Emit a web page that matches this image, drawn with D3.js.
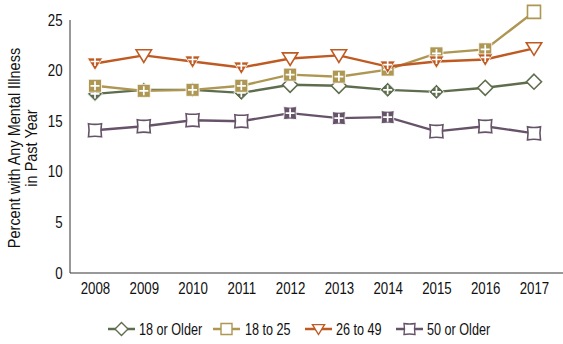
<!DOCTYPE html>
<html><head><meta charset="utf-8">
<script src="https://cdn.jsdelivr.net/npm/d3@7"></script>
<style>
body{margin:0;background:#fff;}
text{font-family:"Liberation Sans","Arial",sans-serif;fill:#111;}
</style></head>
<body><svg id="c" width="563" height="344"></svg>
<script>
const years = ["2008","2009","2010","2011","2012","2013","2014","2015","2016","2017"];
const yTicks = [0,5,10,15,20,25];
const seriesNames = ["18 or Older","18 to 25","26 to 49","50 or Older"];
const seriesColors = ["#5e6d4e","#ad9752","#bf5a22","#665369"];
const seriesShapes = ["diamond","square","triangle","star"];
const olderAll = [17.7,18.1,18.1,17.8,18.6,18.5,18.1,17.9,18.3,18.9];
const age18to25 = [18.5,18.0,18.1,18.5,19.6,19.4,20.1,21.7,22.1,25.8];
const age26to49 = [20.7,21.5,20.9,20.3,21.2,21.5,20.4,20.9,21.1,22.2];
const age50plus = [14.1,14.5,15.1,15.0,15.8,15.3,15.4,14.0,14.5,13.8];
// 1 = significantly different from 2017 (filled marker with plus)
const sigAll = [1,1,1,1,0,0,1,1,0,0];
const sig18to25 = [1,1,1,1,1,1,1,1,1,0];
const sig26to49 = [1,0,1,1,0,0,1,1,1,0];
const sig50plus = [0,0,0,0,1,1,1,0,0,0];
const seriesValues = [olderAll, age18to25, age26to49, age50plus];
const seriesSig = [sigAll, sig18to25, sig26to49, sig50plus];

const svg = d3.select("#c");
const x = d3.scalePoint().domain(years).range([95,534]);
const y = d3.scaleLinear().domain([0,25]).range([273,20]);
const FS = 16, NUM_SX = 0.83, TXT_SX = 0.79;

// axes
const yAxis = svg.append("g").attr("transform","translate(70,0)")
  .call(d3.axisLeft(y).tickValues(yTicks).tickSize(0).tickPadding(0));
yAxis.select(".domain").attr("stroke","#333").attr("stroke-width",1).attr("d","M0,20V273");
yAxis.selectAll("text").attr("font-size",FS).attr("fill","#111")
  .attr("x",-9).attr("transform",`scale(${NUM_SX},1)`);
const xAxis = svg.append("g").attr("transform","translate(0,273)")
  .call(d3.axisBottom(x).tickSize(0).tickPadding(10));
xAxis.select(".domain").attr("stroke","#333").attr("stroke-width",1).attr("d","M70,0H563");
xAxis.selectAll("text").attr("font-size",FS).attr("fill","#111")
  .attr("transform",`scale(${NUM_SX},1)`);

svg.append("text").attr("transform","translate(20,148) rotate(-90) scale(0.905,1)")
  .attr("text-anchor","middle").attr("font-size",FS).text("Percent with Any Mental Illness");
svg.append("text").attr("transform","translate(37,148) rotate(-90) scale(0.905,1)")
  .attr("text-anchor","middle").attr("font-size",FS).text("in Past Year");

function shapePath(shape, s){
  if(shape==="diamond") return `M0,${-s}L${s},0L0,${s}L${-s},0Z`;
  if(shape==="square") return `M${-s},${-s}H${s}V${s}H${-s}Z`;
  if(shape==="triangle") return `M${-s*1.1},${-s*0.8}H${s*1.1}L0,${s*1.0}Z`;
  // concave square
  const c = s*0.18;
  return `M${-s},${-s}Q0,${-s+c} ${s},${-s}Q${s-c},0 ${s},${s}Q0,${s-c} ${-s},${s}Q${-s+c},0 ${-s},${-s}Z`;
}

const line = d3.line().x((d,i)=>x(years[i])).y(d=>y(d));
const sizes = {diamond:7.5,square:6.5,triangle:7,star:6.5};

seriesValues.forEach((vals,k)=>{
  const col = seriesColors[k], shape = seriesShapes[k];
  const g = svg.append("g");
  g.append("path").datum(vals).attr("d",line).attr("fill","none")
    .attr("stroke",col).attr("stroke-width",2.4);
  const m = g.selectAll("g.m").data(vals).join("g")
    .attr("transform",(d,i)=>`translate(${x(years[i])},${y(d)})`);
  m.append("path").attr("d",shapePath(shape,sizes[shape]))
    .attr("fill",(d,i)=>seriesSig[k][i]?col:"#fff")
    .attr("stroke",(d,i)=>seriesSig[k][i]?"#fff":col)
    .attr("stroke-width",(d,i)=>seriesSig[k][i]?0.8:1.6);
  m.filter((d,i)=>seriesSig[k][i]).append("path")
    .attr("d",()=>{const off = shape==="triangle"? -2: 0; return `M-4.5,${off}H4.5M0,${off-4.5}V${off+4.5}`;})
    .attr("stroke","#fff").attr("stroke-width",1.7).attr("fill","none");
});

// legend
const legendX = [108,213,305,396];
const legendTextX = [139,245,336,427];
seriesNames.forEach((n,k)=>{
  const col = seriesColors[k], shape = seriesShapes[k];
  const g = svg.append("g");
  g.append("line").attr("x1",legendX[k]).attr("x2",legendX[k]+27).attr("y1",329).attr("y2",329)
    .attr("stroke",col).attr("stroke-width",2.5);
  g.append("path").attr("transform",`translate(${legendX[k]+13.5},329)`)
    .attr("d",shapePath(shape,shape==="diamond"?6.5:5.5)).attr("fill","#fff").attr("stroke",col).attr("stroke-width",1.4);
  g.append("text").attr("transform",`translate(${legendTextX[k]},335) scale(${TXT_SX},1)`)
    .attr("font-size",FS).text(n);
});
</script></body></html>
